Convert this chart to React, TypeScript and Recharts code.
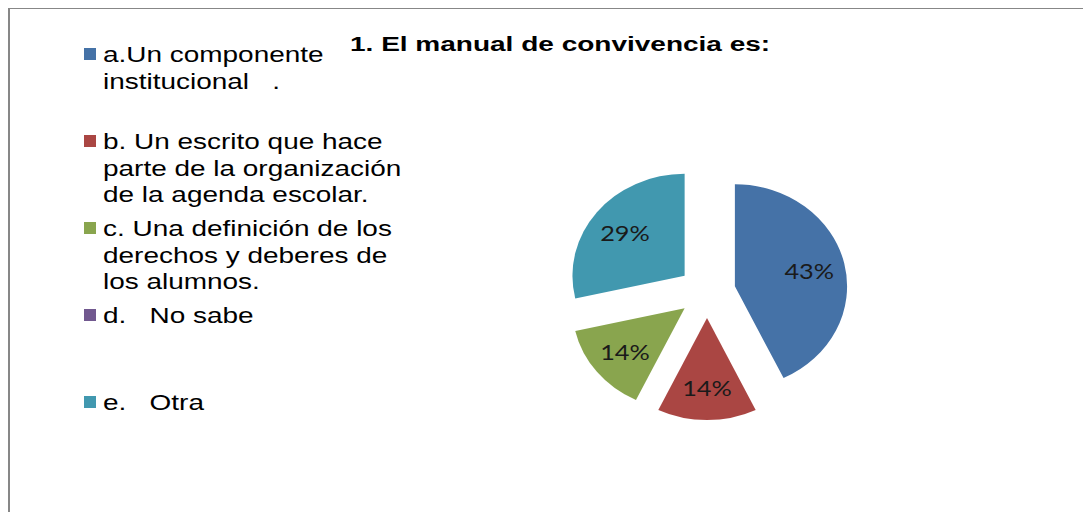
import { PieChart, Pie, Cell, Legend, Sector } from 'recharts';

const title = '1. El manual de convivencia es:';
const categories = [
  'a.Un componente institucional   .',
  'b. Un escrito que hace parte de la organización de la agenda escolar.',
  'c. Una definición de los derechos y deberes de los alumnos.',
  'd.   No sabe',
  'e.   Otra',
];
const counts = [3, 1, 1, 0, 2];
const colors = ['#4572A7', '#AA4643', '#89A54E', '#71588F', '#4198AF'];

const data = categories.map((name, i) => ({ name, value: counts[i] }));

const RAD = Math.PI / 180;
const EXPLODE = 26;
const STRETCH = 1.1;

function pushOut(cx: number, cy: number, midAngle: number, dist: number) {
  return [cx + dist * Math.cos(-midAngle * RAD), cy + dist * Math.sin(-midAngle * RAD)];
}

// excel-style exploded slice, pie a bit wider than tall
function ExplodedSlice(props: any) {
  const { cx, cy, midAngle } = props;
  const [x, y] = pushOut(cx, cy, midAngle, EXPLODE);
  return (
    <g transform={`translate(${cx} ${cy}) scale(${STRETCH} 1) translate(${-cx} ${-cy})`}>
      <Sector {...props} cx={x} cy={y} stroke="none" />
    </g>
  );
}

function SliceLabel(props: any) {
  const { cx, cy, midAngle, outerRadius, percent, value } = props;
  if (!value) return null;
  const [px, y] = pushOut(cx, cy, midAngle, EXPLODE + outerRadius * 0.68);
  const x = cx + (px - cx) * STRETCH;
  return (
    <text
      x={x}
      y={y}
      textAnchor="middle"
      dominantBaseline="central"
      fill="#1a1a1a"
      fontSize={22}
      fontFamily="Lato"
      transform={`translate(${x} ${y}) scale(1.15 1) translate(${-x} ${-y})`}
    >
      {`${Math.round(percent * 100)}%`}
    </text>
  );
}

function LegendList({ payload }: any) {
  return (
    <div style={{ fontFamily: '"Liberation Sans", Arial', fontSize: 22, lineHeight: '26.5px', color: '#000' }}>
      {(payload || []).map((entry: any, i: number) => (
        <div key={entry.value} style={{ position: 'relative', height: 87 }}>
          <span
            style={{ position: 'absolute', left: 0, top: 6, width: 12, height: 12, backgroundColor: colors[i] }}
          />
          <div
            style={{
              position: 'absolute',
              left: 19,
              top: 0,
              width: 245,
              whiteSpace: 'pre-wrap',
              transform: 'scaleX(1.27)',
              transformOrigin: 'left top',
            }}
          >
            {entry.value}
          </div>
        </div>
      ))}
    </div>
  );
}

export default function App() {
  return (
    <div
      style={{
        position: 'relative',
        width: 1091,
        height: 512,
        margin: '-8px 0 0 -8px',
        overflow: 'hidden',
        background: '#fff',
      }}
    >
      <div
        style={{
          position: 'absolute',
          left: 8,
          top: 7,
          width: 1200,
          height: 600,
          border: '2px solid #878787',
        }}
      />
      <div style={{ position: 'absolute', left: 0, top: 0 }}>
        <PieChart width={1091} height={512} margin={{ top: 0, right: 0, bottom: 0, left: 0 }}>
          <Pie
            data={data}
            dataKey="value"
            nameKey="name"
            cx={707}
            cy={292}
            outerRadius={102}
            startAngle={90}
            endAngle={-270}
            stroke="none"
            shape={ExplodedSlice}
            label={SliceLabel}
            labelLine={false}
            isAnimationActive={false}
          >
            {data.map((d, i) => (
              <Cell key={d.name} fill={colors[i]} />
            ))}
          </Pie>
          <Legend
            layout="vertical"
            align="center"
            verticalAlign="middle"
            content={<LegendList />}
            wrapperStyle={{ left: 84, top: 42, width: 340 }}
          />
        </PieChart>
      </div>
      <div
        style={{
          position: 'absolute',
          left: 350,
          top: 34,
          fontFamily: '"Liberation Sans", Arial',
          fontWeight: 'bold',
          fontSize: 20,
          lineHeight: '20px',
          whiteSpace: 'nowrap',
          color: '#000',
          transform: 'scaleX(1.4)',
          transformOrigin: 'left top',
        }}
      >
        {title}
      </div>
    </div>
  );
}
